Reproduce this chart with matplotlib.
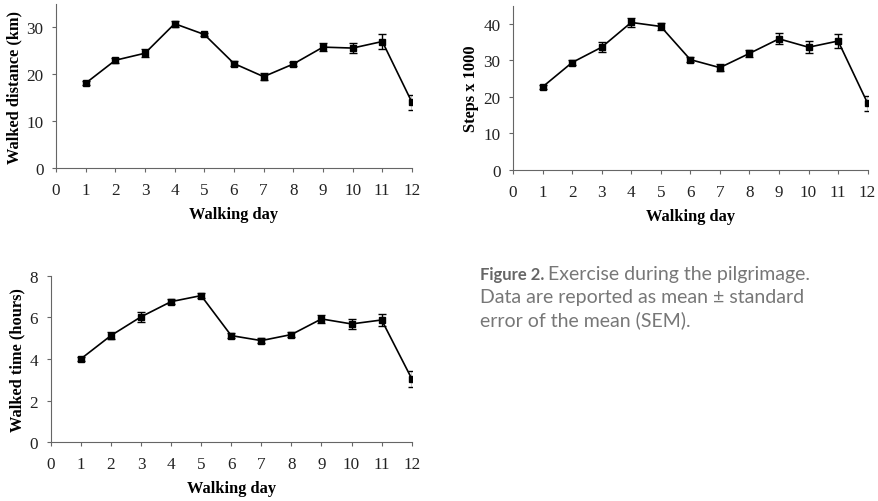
import matplotlib.pyplot as plt

days = list(range(1, 13))

# walked distance (km)
dist_mean = [18.1, 23.0, 24.5, 30.8, 28.5, 22.3, 19.5, 22.2, 25.8, 25.6, 27.0, 14.0]
dist_sem = [0.4, 0.5, 0.9, 0.6, 0.4, 0.5, 0.7, 0.5, 0.9, 1.1, 1.6, 1.6]

# steps x 1000
steps_mean = [22.7, 29.4, 33.6, 40.4, 39.3, 30.2, 28.0, 31.9, 35.9, 33.6, 35.3, 18.2]
steps_sem = [0.5, 0.8, 1.3, 1.3, 1.0, 0.6, 1.0, 1.0, 1.5, 1.7, 1.8, 2.0]

# walked time (hours)
time_mean = [4.0, 5.12, 6.02, 6.75, 7.04, 5.12, 4.88, 5.17, 5.92, 5.68, 5.87, 3.05]
time_sem = [0.1, 0.15, 0.25, 0.12, 0.12, 0.12, 0.12, 0.12, 0.2, 0.25, 0.27, 0.38]

plt.rcParams['font.family'] = ['Liberation Serif', 'DejaVu Serif']

fig = plt.figure(figsize=(8.79, 5.02), dpi=100)


def draw_panel(rect, mean, sem, ymax, ystep, ylabel):
    ax = fig.add_axes(rect)
    ax.errorbar(days, mean, yerr=sem, color="black", marker="s", markersize=4,
                linewidth=1.2, elinewidth=1.0, capsize=3, capthick=1.0)
    ax.set_xlim(0, 12)
    ax.set_ylim(0, ymax)
    ax.set_xticks(range(0, 13))
    ax.set_yticks(range(0, ymax + 1, ystep))
    ax.spines['top'].set_visible(False)
    ax.spines['right'].set_visible(False)
    ax.spines['left'].set_color('#666666')
    ax.spines['bottom'].set_color('#666666')
    ax.tick_params(direction="out", length=3, width=0.8, color='#666666',
                   labelsize=12.3, labelcolor='#222222')
    ax.tick_params(axis="x", pad=7)
    ax.tick_params(axis="y", pad=6)
    ax.set_xlabel("Walking day", fontsize=11.8, fontweight="bold", labelpad=6)
    ax.set_ylabel(ylabel, fontsize=11.8, fontweight="bold", labelpad=3)
    return ax


draw_panel([0.0637, 0.6633, 0.405, 0.3267], dist_mean, dist_sem, 35, 10, "Walked distance (km)")
draw_panel([0.5836, 0.66, 0.4035, 0.3267], steps_mean, steps_sem, 45, 10, "Steps x 1000")
draw_panel([0.0577, 0.117, 0.4107, 0.332], time_mean, time_sem, 8, 2, "Walked time (hours)")

# caption
cap_font = ['Lato', 'DejaVu Sans']
cap_x = 0.546
t = fig.text(cap_x, 0.442, "Figure 2.", fontsize=12, fontweight="bold", color="#666666",
             family=cap_font, va="baseline")
renderer = fig.canvas.get_renderer()
bb = t.get_window_extent(renderer=renderer)
fig.text(bb.x1 / fig.bbox.width + 0.004, 0.442, "Exercise during the pilgrimage.", fontsize=14,
         color="#777777", family=cap_font, va="baseline")
fig.text(cap_x, 0.396, "Data are reported as mean \u00b1 standard", fontsize=14,
         color="#777777", family=cap_font, va="baseline")
fig.text(cap_x, 0.350, "error of the mean (SEM).", fontsize=14,
         color="#777777", family=cap_font, va="baseline")

fig.savefig("out.png", dpi=100)
